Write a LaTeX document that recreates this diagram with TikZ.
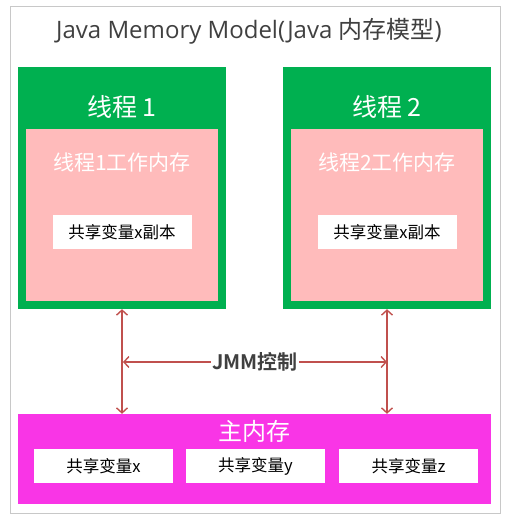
\documentclass[tikz,border=0pt]{standalone}
\usepackage{fontspec}
\setmainfont{Open Sans}
\newfontfamily\cjk{Noto Sans CJK SC}[BoldFont={Noto Sans CJK SC Bold}]
\usetikzlibrary{arrows.meta}
\definecolor{threadgreen}{HTML}{00B050}
\definecolor{workpink}{HTML}{FFBBBB}
\definecolor{mainpink}{HTML}{F935E6}
\definecolor{jmmred}{HTML}{C0504D}
\definecolor{titlegray}{HTML}{404040}
\definecolor{framegray}{HTML}{C8C8C8}
\tikzset{
  threadbox/.style={fill=threadgreen, minimum width=208pt, minimum height=242pt, inner sep=0pt},
  workbox/.style={fill=workpink, minimum width=192pt, minimum height=172pt, inner sep=0pt},
  varbox/.style={fill=white, minimum width=139pt, minimum height=34pt, inner sep=0pt,
    font=\cjk\fontsize{16.5}{16.5}\selectfont},
  jmmarrow/.style={jmmred, line width=1.4pt, {Straight Barb[length=5pt,width=11pt]}-{Straight Barb[length=5pt,width=11pt]}}
}
\begin{document}
\begin{tikzpicture}[x=1pt, y=-1pt]
        \useasboundingbox (0, 0) rectangle (507, 518);
        \draw[framegray, line width=1pt] (10, 7) rectangle (500, 513);
        \node[text=titlegray, font=\fontsize{24}{24}\selectfont] at (249, 31) (title)
          {Java Memory Model(Java {\cjk 内存模型})};

        % threads
        \node[threadbox] at (122, 188) (t1) {};
        \node[threadbox] at (387, 188) (t2) {};
        \foreach \n/\x in {1/122, 2/387} {
          \node[text=white, font=\cjk\fontsize{25}{25}\selectfont] at (\x, 107) (t\n title) {线程 {\n}};
          \node[workbox] at (\x, 215) (w\n) {};
          \node[text=white, font=\cjk\fontsize{21}{21}\selectfont] at (\x, 163) (w\n title) {线程{\n}工作内存};
          \node[varbox] at (\x, 232) (c\n) {共享变量x副本};
        }

        % main memory
        \node[fill=mainpink, minimum width=473pt, minimum height=90pt, inner sep=0pt] at (254.5, 459) (mem) {};
        \node[text=white, font=\cjk\fontsize{24}{24}\selectfont] at (254, 431) (memtitle) {主内存};
        \node[varbox] at (103.5, 466) (vx) {共享变量x};
        \node[varbox] at (255.5, 466) (vy) {共享变量y};
        \node[varbox] at (408.5, 466) (vz) {共享变量z};

        % JMM
        \draw[jmmarrow] (t1.south) -- (t1.south |- mem.north);
        \draw[jmmarrow] (t2.south) -- (t2.south |- mem.north);
        \coordinate (h1) at (123, 362);
        \coordinate (h2) at (387, 362);
        \draw[jmmarrow] (h1) -- (h2)
          node[midway, fill=white, text=titlegray, inner sep=1pt, font=\cjk\bfseries\fontsize{20}{20}\selectfont] (jmm) {JMM控制};
    \end{tikzpicture}
\end{document}
